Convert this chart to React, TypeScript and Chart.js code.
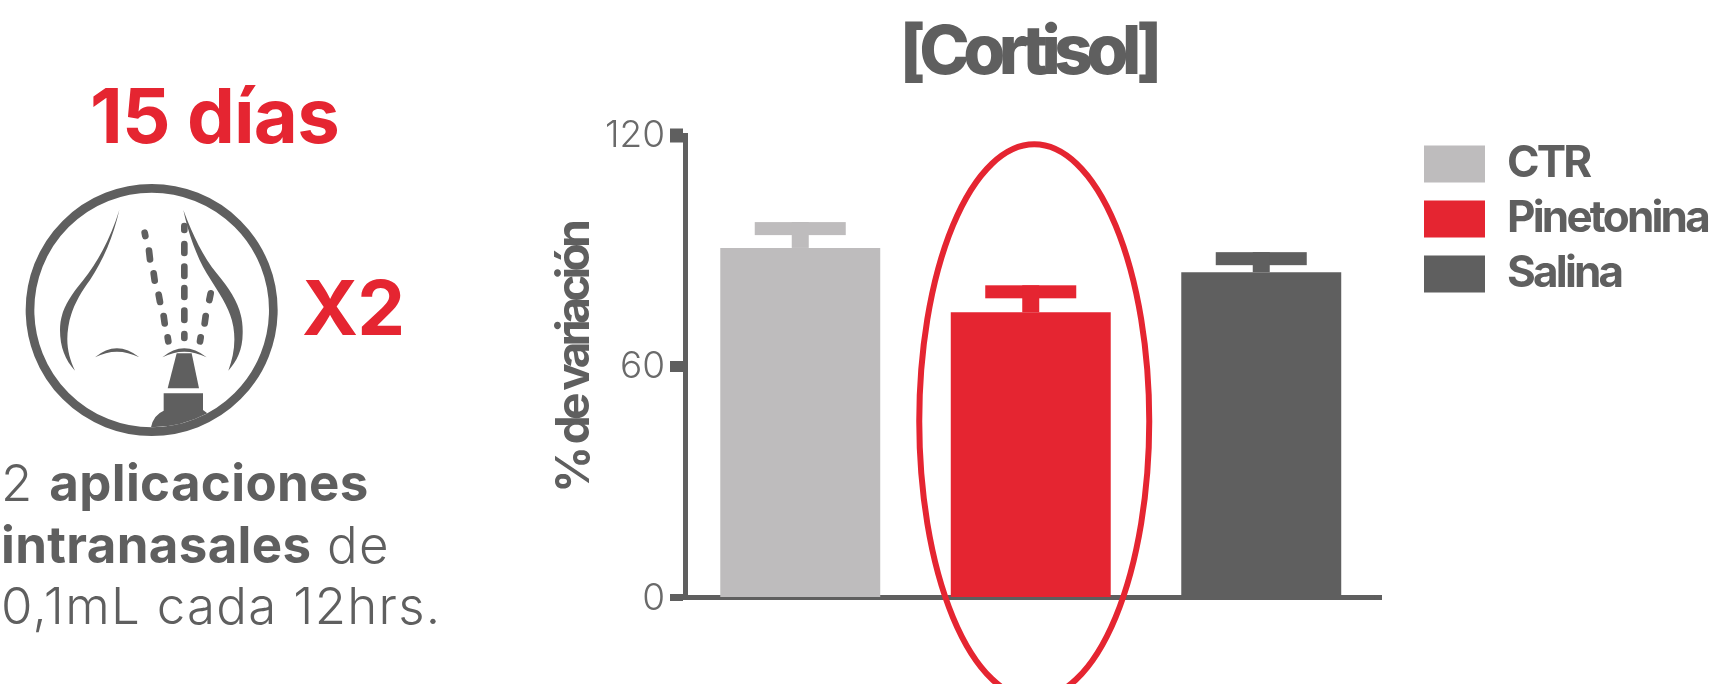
import React, { useEffect, useRef } from "react";
import { Chart, registerables } from "chart.js";

Chart.register(...registerables);

const categories = ["CTR", "Pinetonina", "Salina"];
const means = [90.7, 74.0, 84.4];
const errors = [6.7, 7.0, 5.2];
const barColors = ["#bebcbd", "#e52531", "#5f5f5f"];
const yTicks = [0, 60, 120];
const titleText = "[Cortisol]";
const yTitle = "% de variación";
const highlightCenter = 45.7;
const highlightRadius = 71.9;

const GRAY = "#5f5f5f";
const RED = "#e52531";

function wrap(obj: any, method: string, spacing: number, dx = 0, dy = 0) {
  const flag = "__w_" + method;
  if (obj[flag]) return;
  obj[flag] = true;
  const orig = obj[method];
  obj[method] = function (...args: any[]) {
    const ctx = this.ctx;
    ctx.save();
    ctx.letterSpacing = spacing + "px";
    ctx.translate(dx, dy);
    const r = orig.apply(this, args);
    ctx.restore();
    return r;
  };
}

const stylePlugin = {
  id: "stylePlugin",
  afterLayout(chart: any) {
    const l = chart.legend;
    l.left = 1413;
    l.right = 1709;
    l.top = 131;
    l.bottom = 684;
    l.width = 296;
    l.height = 553;
    l.adjustHitBoxes();
  },
  beforeDraw(chart: any) {
    wrap(chart.titleBlock, "draw", -6.6, -3, 3);
    wrap(chart.legend, "draw", -2.8);
    wrap(chart.scales.y, "drawTitle", -4.6, 0, -8);
    wrap(chart.scales.y, "drawLabels", 0, 0, 1);
  },
};

const marksPlugin = {
  id: "marksPlugin",
  beforeDatasetsDraw(chart: any) {
    const { ctx, scales } = chart;
    ctx.save();
    ctx.strokeStyle = GRAY;
    ctx.lineWidth = 5;
    ctx.beginPath();
    ctx.moveTo(scales.x.right - 2, scales.x.top);
    ctx.lineTo(1382, scales.x.top);
    ctx.stroke();
    ctx.restore();
  },
  afterDatasetsDraw(chart: any) {
    const { ctx, scales } = chart;
    ctx.save();
    means.forEach((m, i) => {
      const x = scales.x.getPixelForValue(i);
      const top = scales.y.getPixelForValue(m + errors[i]);
      const base = scales.y.getPixelForValue(m);
      ctx.fillStyle = barColors[i];
      ctx.fillRect(x - 45.5, top, 91, 13);
      ctx.fillRect(x - 8.5, top, 17, base - top);
    });
    const cy = scales.y.getPixelForValue(highlightCenter);
    const ry = scales.y.getPixelForValue(highlightCenter - highlightRadius) - cy;
    ctx.strokeStyle = RED;
    ctx.lineWidth = 6;
    ctx.beginPath();
    ctx.ellipse(scales.x.getPixelForValue(1) + 3.5, cy, 115, ry, 0, 0, Math.PI * 2);
    ctx.stroke();
    ctx.restore();
  },
};

const dashes: number[][] = [
  [434, 518, 436, 528], [447, 572, 450, 598], [461, 640, 464, 662], [476, 704, 480, 726], [491, 768, 494, 790], [503, 832, 505, 844],
  [553, 498, 553, 510], [553, 552, 553, 579], [553, 620, 553, 648], [553, 684, 553, 711], [553, 752, 553, 780], [553, 822, 553, 834],
  [602, 832, 600, 844], [617, 768, 614, 790], [632, 700, 628, 720],
];

function NoseIcon() {
  return (
    <svg viewBox="0 0 1380 1200" width={460} height={400} style={{ position: "absolute", left: 0, top: 60 }}>
      <g fill={GRAY}>
        <circle cx={455} cy={750} r={365} fill="none" stroke={GRAY} strokeWidth={26} />
        <path d="M358 450 C330 540 290 610 250 660 C200 720 180 760 180 810 C180 860 195 900 225 932 C205 890 197 850 205 800 C212 750 240 700 270 660 C310 600 340 530 358 450 Z" />
        <path d="M550 450 C580 530 610 590 650 640 C700 700 730 750 728 820 C728 870 710 905 685 932 C700 890 708 850 700 800 C690 740 650 690 620 640 C590 590 565 520 550 450 Z" />
        <path d="M285 892 Q350 838 418 892 Q350 858 285 892 Z" />
        <path d="M487 892 Q552 838 620 892 Q552 858 487 892 Z" />
        <path d="M530 880 L575 880 L597 985 L503 985 Z" />
        <path d="M491 1000 H609 V1050 L622 1060 A352 352 0 0 1 453 1102 Q460 1065 491 1052 Z" />
      </g>
      {dashes.map((d, i) => (
        <line key={i} x1={d[0]} y1={d[1]} x2={d[2]} y2={d[3]} stroke={GRAY} strokeWidth={20} strokeLinecap="round" />
      ))}
    </svg>
  );
}

const abs = (left: number, top: number): React.CSSProperties => ({ position: "absolute", left, top, whiteSpace: "nowrap" });

export default function App() {
  const ref = useRef<HTMLCanvasElement>(null);
  useEffect(() => {
    const chart = new Chart(ref.current!, {
      type: "bar",
      data: {
        labels: categories,
        datasets: [{ data: means, backgroundColor: barColors, barPercentage: 0.694, categoryPercentage: 1 }],
      },
      plugins: [stylePlugin, marksPlugin],
      options: {
        animation: false,
        responsive: false,
        layout: { autoPadding: false, padding: { left: 0, right: 332.5, top: 0, bottom: 0 } },
        plugins: {
          tooltip: { enabled: false },
          title: {
            display: true,
            text: titleText,
            fullSize: false,
            color: GRAY,
            font: { family: "Inter", size: 68, weight: "800", lineHeight: 1.2 },
            padding: { top: 10, bottom: 43.4 },
          },
          legend: {
            display: true,
            position: "chartArea",
            align: "start",
            labels: {
              boxWidth: 61,
              boxHeight: 37,
              padding: 11,
              color: GRAY,
              font: { family: "Inter", size: 44, weight: "700", lineHeight: 0.8 },
              generateLabels: () =>
                categories.map((c, i) => ({ text: c, fillStyle: barColors[i], strokeStyle: barColors[i], fontColor: GRAY, lineWidth: 0, hidden: false, index: i })),
            },
          },
        },
        scales: {
          x: {
            type: "category",
            grid: { display: false },
            ticks: { display: false },
            border: { display: true, color: GRAY, width: 5 },
            afterFit: (s: any) => { s.height = 86.5; },
          },
          y: {
            type: "linear",
            min: 0,
            max: 120,
            afterBuildTicks: (s: any) => { s.ticks = yTicks.map((value) => ({ value })); },
            afterFit: (s: any) => { s.width = 685; },
            grid: {
              display: true,
              drawOnChartArea: false,
              drawTicks: true,
              tickLength: 15,
              tickColor: GRAY,
              tickWidth: (c: any) => (c.tick && c.tick.value === 120 ? 14 : c.tick && c.tick.value === 60 ? 11 : 7),
            },
            border: { display: true, color: GRAY, width: 5 },
            ticks: {
              color: "#6a6a6a",
              padding: 5,
              font: { family: "Inter", size: 37, weight: "300" },
            },
            title: {
              display: true,
              text: yTitle,
              color: GRAY,
              font: { family: "Inter", size: 46, weight: "700", lineHeight: 1.2 },
              padding: { top: 548, bottom: 0 },
            },
          },
        },
      } as any,
    });
    return () => chart.destroy();
  }, []);

  const bodyText: React.CSSProperties = { fontFamily: "Inter", fontSize: 51, fontWeight: 300, color: GRAY, letterSpacing: 1.3, lineHeight: "61.5px" };
  const bold: React.CSSProperties = { fontWeight: 700, letterSpacing: 0.35 };
  const big: React.CSSProperties = { fontFamily: "Inter", fontWeight: 700, fontSize: 76, color: RED, letterSpacing: -0.8, lineHeight: "92px" };

  return (
    <div style={{ position: "fixed", inset: 0, overflow: "hidden", background: "#fff" }}>
      <canvas ref={ref} width={1709} height={684} style={{ position: "absolute", left: 0, top: 0, width: 1709, height: 684 }} />
      <div style={{ ...big, ...abs(90, 69) }}>15 días</div>
      <div style={{ ...big, ...abs(302, 261) }}>X2</div>
      <NoseIcon />
      <div style={{ ...bodyText, ...abs(1, 452) }}>
        2 <span style={bold}>aplicaciones</span>
        <br />
        <span style={bold}>intranasales</span> de
        <br />
        0,1mL cada 12hrs.
      </div>
    </div>
  );
}
